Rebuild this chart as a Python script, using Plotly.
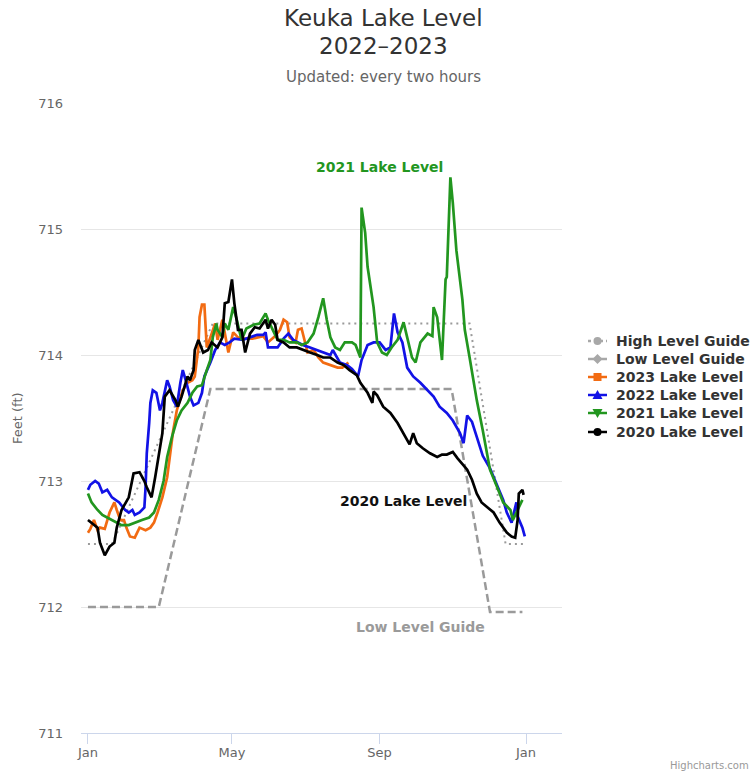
import pandas as pd
import plotly.graph_objects as go

BASE = pd.Timestamp("2023-01-01")

# ---- Data (x = day of year, 0 = Jan 1; y = lake level in feet) ----
high_guide_days = [0, 20, 104, 318, 348, 364]
high_guide_ft = [712.5, 712.5, 714.25, 714.25, 712.5, 712.5]

low_guide_days = [0, 59, 102, 303, 335, 362]
low_guide_ft = [712.0, 712.0, 713.73, 713.73, 711.96, 711.96]

l2023_days = [0, 2, 5, 8, 10, 14, 18, 22, 24, 27, 30, 32, 35, 39, 43, 48, 52, 55, 58, 62,
              66, 68, 71, 74, 77, 79, 83, 87, 89, 91, 92, 93, 95, 97, 99, 102, 104, 106, 108,
              112, 117, 121, 125, 131, 137, 142, 146, 150, 156, 160, 163, 166, 168, 173, 175,
              178, 181, 183, 188, 192, 196, 202, 208, 212, 217]
l2023_ft = [712.59, 712.62, 712.69, 712.61, 712.63, 712.62, 712.75, 712.83, 712.77, 712.69,
            712.69, 712.63, 712.56, 712.55, 712.63, 712.61, 712.63, 712.67, 712.75, 712.87,
            713.03, 713.17, 713.40, 713.56, 713.67, 713.72, 713.78, 713.80, 713.83, 713.96,
            714.06, 714.30, 714.40, 714.40, 714.06, 714.14, 714.20, 714.25, 714.12, 714.28,
            714.02, 714.18, 714.14, 714.13, 714.13, 714.14, 714.15, 714.10, 714.15, 714.20,
            714.28, 714.26, 714.14, 714.10, 714.20, 714.21, 714.08, 714.02, 714.04, 713.98,
            713.94, 713.92, 713.90, 713.90, 713.94]

l2022_days = [0, 2, 6, 9, 12, 16, 20, 26, 31, 34, 37, 39, 43, 47, 48, 49, 51, 52, 54, 57,
              60, 62, 66, 68, 71, 74, 77, 79, 82, 85, 88, 92, 95, 97, 102, 106, 110, 114, 118,
              122, 129, 135, 141, 146, 148, 150, 154, 158, 163, 167, 171, 175, 179, 185, 191,
              196, 202, 204, 210, 216, 220, 225, 228, 233, 238, 243, 248, 252, 255, 258, 262,
              266, 271, 277, 283, 288, 293, 299, 304, 310, 313, 316, 320, 324, 329, 335, 341,
              346, 349, 353, 355, 357, 358, 362, 364]
l2022_ft = [712.93, 712.97, 713.00, 712.98, 712.91, 712.93, 712.87, 712.83, 712.77, 712.75,
            712.77, 712.73, 712.75, 712.79, 712.95, 713.22, 713.46, 713.62, 713.72, 713.70,
            713.56, 713.62, 713.80, 713.75, 713.64, 713.59, 713.78, 713.88, 713.78, 713.67,
            713.60, 713.62, 713.70, 713.83, 713.94, 714.04, 714.10, 714.08, 714.10, 714.13,
            714.12, 714.14, 714.16, 714.16, 714.18, 714.06, 714.06, 714.06, 714.13, 714.17,
            714.12, 714.10, 714.08, 714.06, 714.04, 714.02, 714.00, 714.04, 713.94, 713.92,
            713.89, 713.83, 713.96, 714.08, 714.10, 714.10, 714.04, 714.06, 714.33, 714.18,
            714.10, 713.90, 713.83, 713.78, 713.72, 713.67, 713.59, 713.54, 713.48, 713.38,
            713.30, 713.52, 713.47, 713.35, 713.20, 713.10, 712.97, 712.85, 712.75, 712.67,
            712.75, 712.83, 712.72, 712.63, 712.56]

l2021_days = [0, 3, 8, 12, 16, 20, 24, 28, 34, 39, 45, 51, 55, 59, 63, 66, 70, 74, 78, 83,
              87, 91, 95, 99, 102, 104, 107, 108, 112, 114, 117, 121, 124, 128, 132, 138, 143,
              148, 150, 154, 158, 163, 168, 174, 178, 183, 188, 192, 196, 199, 202, 206, 210,
              214, 220, 223, 227, 228, 231, 233, 238, 241, 245, 249, 253, 258, 263, 266, 270,
              273, 277, 283, 287, 288, 291, 295, 298, 299, 302, 304, 307, 312, 314, 318, 324,
              329, 335, 341, 346, 352, 354, 358, 362]
l2021_ft = [712.90, 712.83, 712.77, 712.73, 712.71, 712.69, 712.67, 712.65, 712.65, 712.67,
            712.69, 712.71, 712.75, 712.85, 713.00, 713.19, 713.35, 713.48, 713.56, 713.62,
            713.70, 713.75, 713.76, 713.88, 713.96, 714.14, 714.25, 714.20, 714.14, 714.25,
            714.20, 714.38, 714.28, 714.12, 714.21, 714.24, 714.25, 714.33, 714.28, 714.20,
            714.12, 714.12, 714.10, 714.10, 714.08, 714.10, 714.17, 714.30, 714.45, 714.28,
            714.14, 714.06, 714.04, 714.10, 714.10, 714.08, 713.98, 715.17, 714.97, 714.70,
            714.38, 714.10, 714.02, 714.00, 714.06, 714.12, 714.26, 714.14, 713.98, 713.94,
            714.10, 714.17, 714.15, 714.38, 714.30, 713.96, 714.60, 714.62, 715.41, 715.21,
            714.83, 714.44, 714.20, 713.98, 713.64, 713.40, 713.09, 712.95, 712.83, 712.77,
            712.69, 712.77, 712.85]

l2020_days = [0, 3, 8, 10, 14, 18, 22, 24, 28, 34, 38, 43, 47, 49, 53, 56, 59, 62, 64, 68,
              73, 75, 78, 83, 85, 88, 89, 92, 96, 100, 103, 108, 112, 114, 117, 120, 122, 125,
              128, 131, 135, 139, 143, 148, 150, 153, 156, 158, 163, 168, 174, 179, 185, 191,
              196, 202, 208, 213, 218, 224, 227, 233, 237, 238, 241, 246, 252, 258, 263, 268,
              271, 274, 279, 285, 291, 295, 299, 304, 308, 316, 320, 324, 328, 333, 338, 343,
              349, 353, 356, 358, 359, 362, 363]
l2020_ft = [712.69, 712.67, 712.63, 712.51, 712.41, 712.48, 712.51, 712.63, 712.77, 712.87,
            713.06, 713.07, 713.00, 712.95, 712.87, 713.03, 713.22, 713.38, 713.67, 713.72,
            713.64, 713.59, 713.67, 713.83, 713.80, 713.88, 714.04, 714.12, 714.02, 714.04,
            714.10, 714.06, 714.14, 714.41, 714.42, 714.60, 714.41, 714.20, 714.20, 714.02,
            714.17, 714.22, 714.21, 714.28, 714.21, 714.28, 714.24, 714.12, 714.10, 714.06,
            714.06, 714.04, 714.02, 714.00, 713.98, 713.98, 713.94, 713.92, 713.88, 713.84,
            713.78, 713.70, 713.62, 713.71, 713.68, 713.59, 713.54, 713.46, 713.38, 713.29,
            713.38, 713.30, 713.26, 713.22, 713.19, 713.21, 713.21, 713.23, 713.18, 713.09,
            713.01, 712.90, 712.83, 712.79, 712.75, 712.67, 712.59, 712.56, 712.55, 712.69,
            712.90, 712.93, 712.89]

tick_days = [0, 120, 243, 365]
tick_labels = ["Jan", "May", "Sep", "Jan"]
y_ticks = [711, 712, 713, 714, 715, 716]

# ---- layout geometry (pixels) ----
W, H = 752, 773
L, R, T, B = 81, 562, 103, 733
PW, PH = R - L, B - T


def px(xp):
    return (xp - L) / PW


def py(yp):
    return (B - yp) / PH


def to_dates(days):
    return BASE + pd.to_timedelta(days, unit="D")


FONT = "DejaVu Sans"
GUIDE = "#9a9a9a"
C2023 = "#f26b12"
C2022 = "#1212e6"
C2021 = "#22961f"
C2020 = "#000000"

fig = go.Figure()

series = [
    ("High Level Guide", high_guide_days, high_guide_ft, GUIDE, "2px,4px", 2, "circle"),
    ("Low Level Guide", low_guide_days, low_guide_ft, GUIDE, "8px,4px", 2.5, "diamond"),
    ("2023 Lake Level", l2023_days, l2023_ft, C2023, "solid", 2.7, "square"),
    ("2022 Lake Level", l2022_days, l2022_ft, C2022, "solid", 2.7, "triangle-up"),
    ("2021 Lake Level", l2021_days, l2021_ft, C2021, "solid", 2.7, "triangle-down"),
    ("2020 Lake Level", l2020_days, l2020_ft, C2020, "solid", 2.7, "circle"),
]

for name, d, v, color, dash, w, sym in series:
    fig.add_trace(go.Scatter(
        x=to_dates(d), y=v, mode="lines", name=name, showlegend=False,
        line=dict(color=color, width=w, dash=dash), hoverinfo="skip"))

# ---- hand-drawn legend (shapes + text) ----
legend_rows = [341, 359, 377, 395, 413, 432]
legend_colors = ["#a8a8a8", "#a8a8a8", C2023, C2022, C2021, C2020]
shapes = []
annotations = []
marker_paths = {
    "diamond": "M 0 5 L 5 0 L 0 -5 L -5 0 Z",
    "triangle-up": "M 0 5 L 5 -4 L -5 -4 Z",
    "triangle-down": "M 0 -5 L 5 4 L -5 4 Z",
}
for (name, d, v, color, dash, w, sym), yrow, lc in zip(series, legend_rows, legend_colors):
    yy = py(yrow)
    shapes.append(dict(type="line", xref="paper", yref="paper", x0=px(588), x1=px(607),
                       y0=yy, y1=yy,
                       line=dict(color=lc, width=2.5, dash="dot" if dash == "2px,4px" else "solid")))
    common = dict(xref="paper", yref="paper", xsizemode="pixel", ysizemode="pixel",
                  xanchor=px(597.5), yanchor=yy, fillcolor=lc, line=dict(color=lc, width=0))
    if sym == "circle":
        shapes.append(dict(type="circle", x0=-4, x1=4, y0=-4, y1=4, **common))
    elif sym == "square":
        shapes.append(dict(type="rect", x0=-4, x1=4, y0=-4, y1=4, **common))
    else:
        shapes.append(dict(type="path", path=marker_paths[sym], **common))
    annotations.append(dict(text="<b>%s</b>" % name, xref="paper", yref="paper",
                            x=px(614), y=yy, xanchor="left", yanchor="middle",
                            showarrow=False,
                            font=dict(size=14, color="#333333", family=FONT)))

fig.update_layout(
    width=W, height=H,
    margin=dict(l=L, r=W - R, t=T, b=H - B),
    paper_bgcolor="white", plot_bgcolor="white",
    font=dict(family=FONT, color="#666666"),
    showlegend=False,
    xaxis=dict(
        type="date",
        range=[BASE + pd.Timedelta(days=-5.8), BASE + pd.Timedelta(days=395)],
        tickvals=to_dates(tick_days), ticktext=tick_labels,
        showgrid=False, showline=True, linecolor="#ccd6eb", linewidth=1,
        ticks="outside", ticklen=10, tickcolor="#ccd6eb", ticklabelstandoff=-3,
        tickfont=dict(size=13, color="#666666"), zeroline=False, fixedrange=True),
    yaxis=dict(
        range=[711, 716], tickvals=y_ticks, ticktext=[str(t) for t in y_ticks],
        showgrid=True, gridcolor="#e6e6e6", gridwidth=1, zeroline=False,
        ticks="", ticklabelstandoff=17, tickfont=dict(size=13, color="#666666"),
        fixedrange=True),
)

annotations += [
    dict(text="Keuka Lake Level", xref="paper", yref="paper", x=px(383), y=py(18),
         xanchor="center", yanchor="middle", showarrow=False,
         font=dict(size=23, color="#333333", family=FONT)),
    dict(text="2022–2023", xref="paper", yref="paper", x=px(383), y=py(46),
         xanchor="center", yanchor="middle", showarrow=False,
         font=dict(size=23, color="#333333", family=FONT)),
    dict(text="Updated: every two hours", xref="paper", yref="paper",
         x=px(383), y=py(77), xanchor="center", yanchor="middle",
         showarrow=False, font=dict(size=15, color="#666666", family=FONT)),
    dict(text="Feet (ft)", xref="paper", yref="paper", x=px(17), y=0.5,
         xanchor="center", yanchor="middle", textangle=-90, showarrow=False,
         font=dict(size=13, color="#666666", family=FONT)),
    dict(text="<b>2021 Lake Level</b>", x=BASE + pd.Timedelta(days=243), y=715.49,
         xref="x", yref="y", showarrow=False,
         font=dict(size=14, color=C2021, family=FONT)),
    dict(text="<b>2020 Lake Level</b>", x=BASE + pd.Timedelta(days=263), y=712.84,
         xref="x", yref="y", showarrow=False,
         font=dict(size=14, color="#111111", family=FONT)),
    dict(text="<b>Low Level Guide</b>", x=BASE + pd.Timedelta(days=277.5), y=711.84,
         xref="x", yref="y", showarrow=False,
         font=dict(size=14, color=GUIDE, family=FONT)),
    dict(text="Highcharts.com", xref="paper", yref="paper",
         x=px(751), y=py(765), xanchor="right", yanchor="middle",
         showarrow=False, font=dict(size=10, color="#999999", family=FONT)),
]
fig.update_layout(annotations=annotations, shapes=shapes)

fig.write_html("out.html",
               config={"displayModeBar": False, "staticPlot": True},
               post_script="document.body.style.margin='0';document.body.style.overflow='hidden';")
